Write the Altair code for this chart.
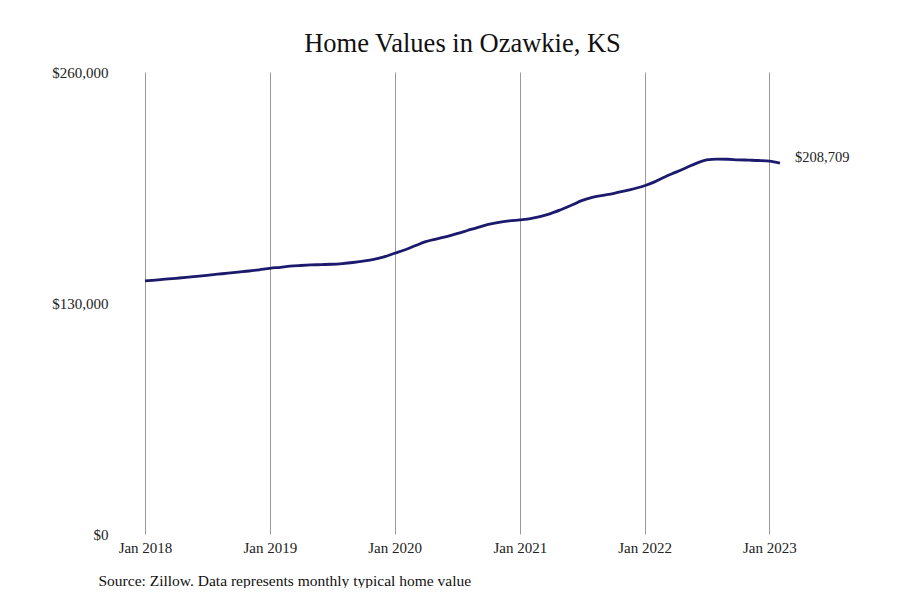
import altair as alt
import pandas as pd

# Monthly typical home value, Jan 2018 - Feb 2023
months = pd.date_range("2018-01-01", "2023-02-01", freq="MS").strftime("%Y-%m-%dT00:00:00").tolist()
values = [
    # 2018
    142400, 142900, 143400, 143900, 144400, 145000, 145600, 146200, 146800, 147400, 148000, 148700,
    # 2019
    149500, 150100, 150700, 151100, 151400, 151600, 151800, 152200, 152800, 153600, 154600, 156000,
    # 2020
    158000, 160000, 162200, 164500, 166000, 167400, 169000, 170800, 172600, 174200, 175400, 176200,
    # 2021
    176800, 177500, 178600, 180300, 182500, 185000, 187600, 189500, 190600, 191600, 192900, 194300,
    # 2022
    196000, 198300, 200900, 203500, 206000, 208600, 210500, 211000, 210900, 210600, 210400, 210200,
    # 2023
    209800, 208709,
]
x_tick_years = [2018, 2019, 2020, 2021, 2022, 2023]
y_ticks = [0, 130000, 260000]

title_text = "Home Values in Ozawkie, KS"
source_text = "Source: Zillow. Data represents monthly typical home value"

df = pd.DataFrame({"date": months, "value": values})

FONT = "Liberation Serif"
LINE_COLOR = "#1c1a6c"

x_enc = alt.X(
    "date:T",
    scale=alt.Scale(domain=[alt.DateTime(year=2018, month=1, date=1),
                            alt.DateTime(year=2023, month=2, date=1)]),
    axis=alt.Axis(
        values=[alt.DateTime(year=y, month=1, date=1) for y in x_tick_years],
        format="%b %Y",
        grid=True,
        gridColor="#9a9a9a",
        gridWidth=1,
        ticks=False,
        domain=False,
        labelFlush=False,
        labelPadding=6,
        labelFont=FONT,
        labelFontSize=15,
        labelColor="#222222",
        title=source_text,
        titleFont=FONT,
        titleFontSize=15.5,
        titleFontWeight="normal",
        titleColor="#111111",
        titleAnchor="start",
        titleAlign="left",
        titleBaseline="middle",
        titleX=-47,
        titleY=46,
    ),
)

y_enc = alt.Y(
    "value:Q",
    scale=alt.Scale(domain=[0, 260000], nice=False, zero=True),
    axis=alt.Axis(
        values=y_ticks,
        format="$,.0f",
        grid=False,
        ticks=False,
        domain=False,
        labelPadding=37,
        labelFont=FONT,
        labelFontSize=15,
        labelColor="#222222",
        title="",
    ),
)

line = alt.Chart(df).mark_line(
    color=LINE_COLOR, strokeWidth=2.8, interpolate="monotone"
).encode(x=x_enc, y=y_enc)

end_label = alt.Chart(df).transform_window(
    rank="row_number()", sort=[alt.SortField("date", order="descending")]
).transform_filter(
    alt.datum.rank == 1
).mark_text(
    align="left", baseline="middle", dx=15, dy=-5,
    font=FONT, fontSize=14.5, color="#222222"
).encode(
    x=alt.X("date:T"),
    y=alt.Y("value:Q"),
    text=alt.Text("value:Q", format="$,.0f"),
)

chart = alt.layer(line, end_label).properties(
    width=635,
    height=462,
    background="white",
    title=alt.TitleParams(
        text=title_text, font=FONT, fontSize=26.5, fontWeight="normal",
        color="#111111", anchor="middle", offset=8,
    ),
    padding={"left": 137, "top": 64, "right": 112, "bottom": 54},
    autosize=alt.AutoSizeParams(type="none"),
).configure_view(stroke="transparent")

chart.save("out.html", embed_options={"renderer": "svg", "actions": False})
